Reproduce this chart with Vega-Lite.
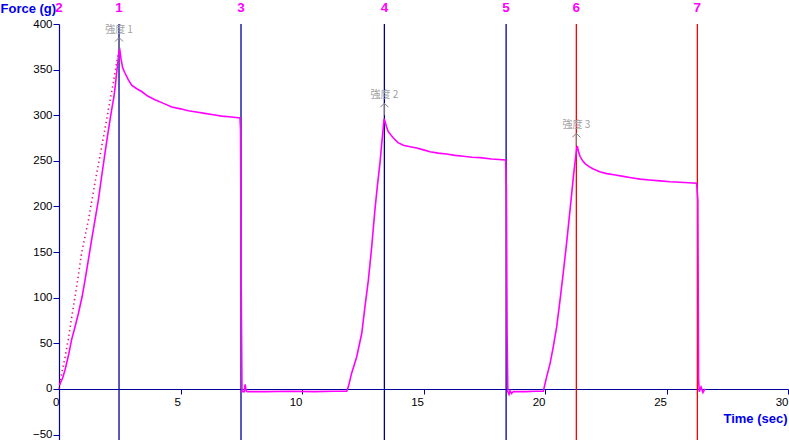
{
  "$schema": "https://vega.github.io/schema/vega-lite/v6.json",
  "autosize": {"type": "none"},
  "padding": {"left": 59, "top": 24, "right": 1, "bottom": 0},
  "width": 729,
  "height": 416,
  "background": "white",
  "config": {"view": {"stroke": null}},
  "datasets": {
    "curve": [
      {"t": 0.02, "f": 4}, {"t": 0.04, "f": 5.5}, {"t": 0.15, "f": 12}, {"t": 0.25, "f": 21},
      {"t": 0.4, "f": 38}, {"t": 0.52, "f": 54}, {"t": 0.65, "f": 67}, {"t": 0.8, "f": 83},
      {"t": 0.95, "f": 101}, {"t": 1.07, "f": 119}, {"t": 1.2, "f": 140}, {"t": 1.34, "f": 163},
      {"t": 1.48, "f": 185}, {"t": 1.62, "f": 207}, {"t": 1.75, "f": 232}, {"t": 1.89, "f": 258},
      {"t": 2.0, "f": 278}, {"t": 2.1, "f": 295}, {"t": 2.18, "f": 308}, {"t": 2.26, "f": 320},
      {"t": 2.32, "f": 333}, {"t": 2.37, "f": 346}, {"t": 2.43, "f": 360}, {"t": 2.47, "f": 371},
      {"t": 2.5, "f": 372}, {"t": 2.55, "f": 362}, {"t": 2.62, "f": 352}, {"t": 2.72, "f": 346},
      {"t": 2.85, "f": 339}, {"t": 2.99, "f": 333}, {"t": 3.2, "f": 329}, {"t": 3.4, "f": 326},
      {"t": 3.65, "f": 321}, {"t": 3.95, "f": 317}, {"t": 4.3, "f": 313}, {"t": 4.64, "f": 309},
      {"t": 5.0, "f": 307}, {"t": 5.32, "f": 305}, {"t": 5.65, "f": 303.5}, {"t": 6.0, "f": 302},
      {"t": 6.35, "f": 300.5}, {"t": 6.7, "f": 299}, {"t": 7.1, "f": 298}, {"t": 7.45, "f": 297},
      {"t": 7.47, "f": 284}, {"t": 7.5, "f": 110}, {"t": 7.53, "f": -3}, {"t": 7.62, "f": -3},
      {"t": 7.66, "f": 5}, {"t": 7.7, "f": -2}, {"t": 7.76, "f": -3}, {"t": 8.5, "f": -3},
      {"t": 9.5, "f": -2.5}, {"t": 10.5, "f": -3}, {"t": 11.3, "f": -2.5}, {"t": 11.84, "f": -2.5},
      {"t": 11.91, "f": 2.5}, {"t": 12.04, "f": 17}, {"t": 12.25, "f": 35}, {"t": 12.46, "f": 61},
      {"t": 12.59, "f": 90}, {"t": 12.73, "f": 119}, {"t": 12.87, "f": 156}, {"t": 13.0, "f": 196},
      {"t": 13.1, "f": 222}, {"t": 13.21, "f": 248}, {"t": 13.32, "f": 280}, {"t": 13.38, "f": 296},
      {"t": 13.42, "f": 293}, {"t": 13.47, "f": 288}, {"t": 13.55, "f": 282}, {"t": 13.76, "f": 275},
      {"t": 13.95, "f": 270}, {"t": 14.17, "f": 267}, {"t": 14.45, "f": 265.5}, {"t": 14.72, "f": 264},
      {"t": 15.0, "f": 262}, {"t": 15.27, "f": 260}, {"t": 15.6, "f": 258.5}, {"t": 15.95, "f": 257.5},
      {"t": 16.3, "f": 256}, {"t": 16.64, "f": 255}, {"t": 17.0, "f": 254}, {"t": 17.33, "f": 253.5},
      {"t": 17.8, "f": 252}, {"t": 18.38, "f": 251}, {"t": 18.41, "f": 220}, {"t": 18.44, "f": 60},
      {"t": 18.47, "f": -3}, {"t": 18.52, "f": -6}, {"t": 18.56, "f": -2}, {"t": 18.62, "f": -5},
      {"t": 18.7, "f": -3}, {"t": 19.2, "f": -3}, {"t": 19.6, "f": -2.5}, {"t": 19.93, "f": -2.5},
      {"t": 20.07, "f": 13.5}, {"t": 20.21, "f": 28}, {"t": 20.34, "f": 46}, {"t": 20.48, "f": 68},
      {"t": 20.62, "f": 97.5}, {"t": 20.75, "f": 127}, {"t": 20.89, "f": 160}, {"t": 21.03, "f": 196},
      {"t": 21.17, "f": 233}, {"t": 21.25, "f": 252}, {"t": 21.3, "f": 262}, {"t": 21.33, "f": 266},
      {"t": 21.38, "f": 260}, {"t": 21.44, "f": 255}, {"t": 21.55, "f": 250}, {"t": 21.65, "f": 247},
      {"t": 21.8, "f": 244}, {"t": 21.99, "f": 241}, {"t": 22.25, "f": 238}, {"t": 22.54, "f": 236},
      {"t": 22.9, "f": 234.5}, {"t": 23.22, "f": 233}, {"t": 23.55, "f": 231.5}, {"t": 23.91, "f": 230},
      {"t": 24.3, "f": 229}, {"t": 24.73, "f": 228}, {"t": 25.15, "f": 227}, {"t": 25.56, "f": 226.5},
      {"t": 25.9, "f": 226}, {"t": 26.24, "f": 225.5}, {"t": 26.29, "f": 207}, {"t": 26.32, "f": 10},
      {"t": 26.35, "f": -3}, {"t": 26.42, "f": 2}, {"t": 26.5, "f": -4}, {"t": 26.58, "f": 0}
    ],
    "dots": [
      {"t": 0.0, "f": 0}, {"t": 0.11, "f": 17}, {"t": 0.25, "f": 35}, {"t": 0.38, "f": 54},
      {"t": 0.52, "f": 78}, {"t": 0.66, "f": 101}, {"t": 0.8, "f": 125}, {"t": 0.93, "f": 149},
      {"t": 1.07, "f": 167}, {"t": 1.21, "f": 185}, {"t": 1.35, "f": 206}, {"t": 1.48, "f": 226},
      {"t": 1.62, "f": 246}, {"t": 1.76, "f": 266}, {"t": 1.9, "f": 286}, {"t": 2.03, "f": 306},
      {"t": 2.17, "f": 326}, {"t": 2.3, "f": 346}, {"t": 2.44, "f": 368}
    ],
    "markers": [
      {"t": 0.0, "n": "2", "grp": "a"},
      {"t": 2.47, "n": "1", "grp": "a"},
      {"t": 7.49, "n": "3", "grp": "a"},
      {"t": 13.39, "n": "4", "grp": "a"},
      {"t": 18.4, "n": "5", "grp": "a"},
      {"t": 21.29, "n": "6", "grp": "b"},
      {"t": 26.27, "n": "7", "grp": "b"}
    ],
    "peaks": [
      {"t": 2.47, "f": 372, "label": "強度 1"},
      {"t": 13.39, "f": 300, "label": "強度 2"},
      {"t": 21.29, "f": 267, "label": "強度 3"}
    ]
  },
  "layer": [
    {
      "data": {"name": "markers"},
      "transform": [{"filter": "datum.t > 0"}],
      "mark": {"type": "rule", "strokeWidth": 1.3},
      "encoding": {
        "x": {"field": "t", "type": "quantitative",
          "scale": {"domain": [0, 30], "nice": false, "zero": false},
          "axis": {
            "values": [0, 5, 10, 15, 20, 25, 30],
            "offset": -51,
            "grid": false,
            "domainColor": "#00009C",
            "domainWidth": 1.2,
            "tickColor": "#00009C",
            "tickSize": 5,
            "labelAlign": "right",
            "labelBaseline": "top",
            "labelPadding": 2,
            "labelFont": "Liberation Sans",
            "labelFontSize": 11.5,
            "labelColor": "#000000",
            "labelFlush": false,
            "labelOverlap": false,
            "title": "Time (sec)",
            "titleFont": "Liberation Sans",
            "titleFontSize": 13,
            "titleFontWeight": "bold",
            "titleColor": "#0000EE",
            "titleX": 728,
            "titleY": 29,
            "titleAlign": "right",
            "titleBaseline": "middle"
          }
        },
        "y": {"datum": 400, "type": "quantitative",
          "scale": {"domain": [-56, 400], "nice": false, "zero": false},
          "axis": {
            "values": [-50, 0, 50, 100, 150, 200, 250, 300, 350, 400],
            "grid": false,
            "domainColor": "#00009C",
            "domainWidth": 1.2,
            "tickColor": "#00009C",
            "tickSize": 6,
            "labelPadding": 1,
            "labelFont": "Liberation Sans",
            "labelFontSize": 11.5,
            "labelColor": "#000000",
            "labelFlush": false,
            "labelOverlap": false,
            "title": "Force (g)",
            "titleFont": "Liberation Sans",
            "titleFontSize": 13,
            "titleFontWeight": "bold",
            "titleColor": "#0000EE",
            "titleAngle": 0,
            "titleX": -59,
            "titleY": -16,
            "titleAlign": "left",
            "titleBaseline": "middle"
          }
        },
        "y2": {"datum": -56},
        "color": {"field": "grp", "type": "nominal",
          "scale": {"domain": ["a", "b"], "range": ["#000090", "#FF0000"]},
          "legend": null}
      }
    },
    {
      "data": {"name": "markers"},
      "mark": {"type": "text", "font": "Liberation Sans", "fontSize": 13.5, "fontWeight": "bold", "color": "#FF00FF", "baseline": "middle", "align": "center"},
      "encoding": {
        "x": {"field": "t", "type": "quantitative"},
        "y": {"datum": 417},
        "text": {"field": "n"}
      }
    },
    {
      "data": {"name": "dots"},
      "mark": {"type": "line", "color": "#E8107A", "strokeWidth": 1.6, "strokeDash": [1.3, 3.2]},
      "encoding": {
        "x": {"field": "t", "type": "quantitative"},
        "y": {"field": "f", "type": "quantitative"}
      }
    },
    {
      "data": {"name": "curve"},
      "mark": {"type": "line", "color": "#FF00FF", "strokeWidth": 1.6},
      "encoding": {
        "x": {"field": "t", "type": "quantitative"},
        "y": {"field": "f", "type": "quantitative"}
      }
    },
    {
      "data": {"name": "peaks"},
      "mark": {"type": "point", "shape": "M-1,1L0,0L1,1M0,0L0,3", "size": 64, "filled": false, "stroke": "#808080", "strokeWidth": 1, "yOffset": -12, "opacity": 1},
      "encoding": {
        "x": {"field": "t", "type": "quantitative"},
        "y": {"field": "f", "type": "quantitative"}
      }
    },
    {
      "data": {"name": "peaks"},
      "mark": {"type": "text", "font": "Noto Sans CJK JP", "fontSize": 10, "color": "#A0A0A0", "dy": -20, "baseline": "middle", "align": "center"},
      "encoding": {
        "x": {"field": "t", "type": "quantitative"},
        "y": {"field": "f", "type": "quantitative"},
        "text": {"field": "label"}
      }
    }
  ]
}
